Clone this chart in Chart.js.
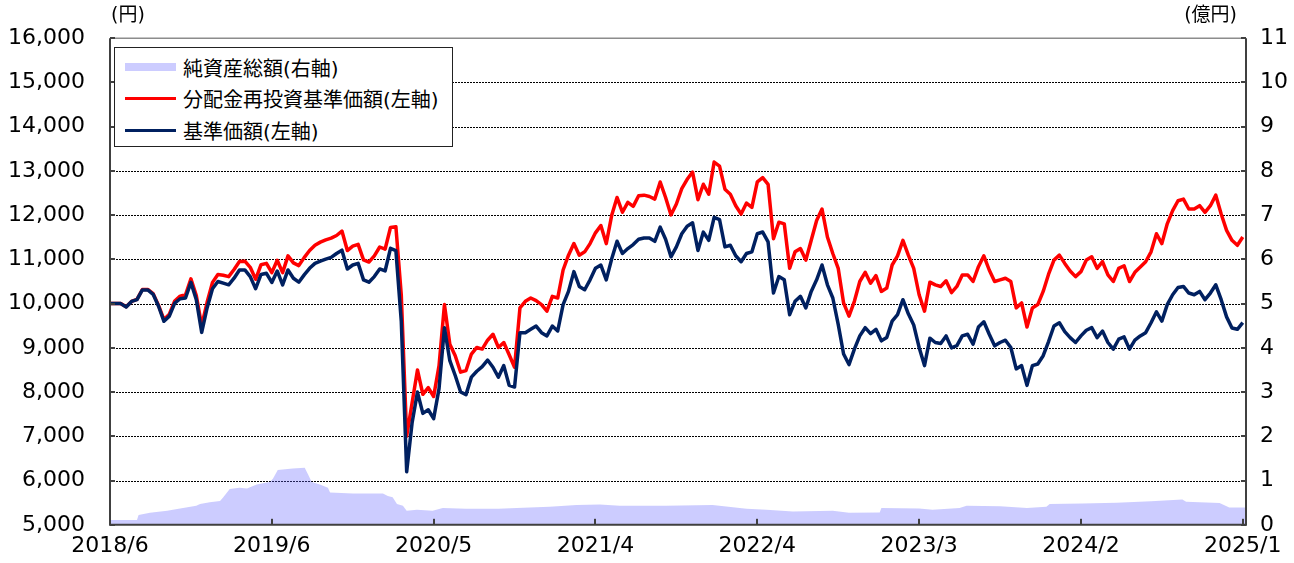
<!DOCTYPE html>
<html>
<head>
<meta charset="utf-8">
<title>基準価額・純資産総額の推移</title>
<script src="https://cdn.jsdelivr.net/npm/chart.js"></script>
<style>
  body { margin: 0; background: #fff; }
  #wrap { position: relative; width: 1294px; height: 563px; }
  .legend {
    position: absolute; left: 114px; top: 47px; width: 339px; height: 100px;
    box-sizing: border-box; border: 1px solid #222; background: #fff;
    font-family: "DejaVu Sans", "Noto Sans CJK JP", sans-serif; font-size: 20px; color: #000;
  }
  .row { position: absolute; left: 10px; height: 30px; display: flex; align-items: center; white-space: nowrap; }
  .sw { width: 51px; margin-right: 7px; }
</style>
</head>
<body>
<div id="wrap">
  <canvas id="grafico" width="1294" height="563"></canvas>
  <div class="legend">
    <div class="row" style="top:4px"><span class="sw" style="height:8px;background:#ccccff"></span>純資産総額(右軸)</div>
    <div class="row" style="top:35px"><span class="sw" style="height:3px;background:#ff0000"></span>分配金再投資基準価額(左軸)</div>
    <div class="row" style="top:67px"><span class="sw" style="height:3px;background:#002060"></span>基準価額(左軸)</div>
  </div>
</div>
<script>
  // x axis: trading-day index, labels every 30 steps
  var tickIdx = [0, 30, 60, 90, 120, 150, 180, 210];
  var tickLabels = ['2018/6', '2019/6', '2020/5', '2021/4', '2022/4', '2023/3', '2024/2', '2025/1'];

  // 基準価額 (円)
  var kijun = [
    10000, 10000, 10000, 9925, 10050, 10090, 10310, 10310, 10210, 9940,
    9600, 9717, 10010, 10110, 10127, 10480, 10090, 9350, 9903, 10336,
    10500, 10462, 10425, 10574, 10761, 10761, 10611, 10336, 10660, 10686,
    10480, 10738, 10425, 10761, 10574, 10484, 10649, 10798, 10910, 10962,
    11007, 11045, 11133, 11208, 10783, 10873, 10910, 10537, 10484, 10611,
    10783, 10738, 11250, 11200, 9600, 6200, 7300, 8000, 7518, 7600,
    7400, 8077, 9456, 8710, 8375, 8003, 7943, 8338, 8472, 8576,
    8725, 8561, 8338, 8599, 8151, 8114, 9344, 9344, 9419, 9493,
    9344, 9270, 9493, 9381, 9978, 10276, 10723, 10388, 10313, 10537,
    10798, 10872, 10537, 11006, 11409, 11133, 11245, 11334, 11454, 11483,
    11483, 11409, 11729, 11454, 11058, 11282, 11580, 11751, 11826, 11200,
    11617, 11431, 11950, 11900, 11282, 11319, 11081, 10947, 11133, 11170,
    11580, 11618, 11394, 10239, 10612, 10537, 9750, 10052, 10164, 9903,
    10276, 10537, 10873, 10425, 10127, 9531, 8860, 8622, 8972, 9270,
    9456, 9321, 9419, 9158, 9233, 9605, 9750, 10089, 9769, 9516,
    9009, 8599, 9218, 9121, 9098, 9270, 9000, 9050, 9270, 9307,
    9083, 9471, 9590, 9307, 9046, 9121, 9173, 9009, 8524, 8599,
    8152, 8599, 8636, 8822, 9143, 9494, 9568, 9367, 9232, 9121,
    9270, 9397, 9456, 9232, 9381, 9121, 8972, 9195, 9247, 8972,
    9173, 9270, 9344, 9568, 9814, 9605, 9978, 10201, 10365, 10388,
    10239, 10201, 10276, 10089, 10239, 10425, 10089, 9700, 9450, 9419,
    9568
  ];

  // 分配金再投資基準価額 (円)
  var saitoshi = [
    10000, 10000, 10000, 9930, 10050, 10095, 10320, 10320, 10225, 9960,
    9640, 9760, 10060, 10170, 10200, 10560, 10180, 9500, 10030, 10480,
    10660, 10640, 10610, 10770, 10950, 10960, 10820, 10550, 10880, 10910,
    10700, 10980, 10700, 11080, 10920, 10860, 11040, 11200, 11320, 11390,
    11440, 11480, 11540, 11640, 11200, 11300, 11340, 10990, 10940, 11080,
    11280, 11230, 11720, 11740, 10200, 7000, 7750, 8500, 7950, 8100,
    7900, 8599, 9978, 9083, 8822, 8450, 8487, 8860, 9009, 8972,
    9173, 9307, 9009, 9120, 8845, 8561, 9903, 10052, 10127, 10067,
    9978, 9829, 10164, 10127, 10760, 11096, 11357, 11096, 11170, 11357,
    11600, 11766, 11357, 11990, 12400, 12065, 12288, 12199, 12437, 12452,
    12422, 12363, 12750, 12400, 12005, 12251, 12601, 12810, 12974, 12350,
    12698, 12474, 13200, 13108, 12586, 12474, 12214, 12027, 12273, 12176,
    12750, 12847, 12698, 11469, 11841, 11804, 10800, 11170, 11245, 10984,
    11431, 11878, 12139, 11506, 11133, 10798, 10015, 9717, 10052, 10500,
    10708, 10462, 10634, 10276, 10351, 10873, 11080, 11431, 11096, 10798,
    10201, 9829, 10485, 10425, 10388, 10515, 10250, 10388, 10649, 10649,
    10500, 10835, 11081, 10760, 10500, 10537, 10574, 10500, 9903, 10015,
    9471, 9903, 9978, 10276, 10664, 10984, 11096, 10909, 10738, 10611,
    10723, 10984, 11059, 10798, 10947, 10649, 10500, 10798, 10857, 10500,
    10708, 10827, 10947, 11170, 11580, 11357, 11804, 12102, 12325, 12363,
    12139, 12139, 12214, 12065, 12214, 12452, 12027, 11655, 11431, 11319,
    11506
  ];

  // 純資産総額 (億円), read at the day index where it changes
  var junIdx = [0, 5, 5.3, 7.4, 10.6, 13, 16, 16.7, 18.5, 20.4, 21, 22.2, 24, 25.4, 27.2, 29.6, 30.2, 31.1,
    33.9, 36.1, 36.7, 37.4, 38.9, 40.4, 40.8, 45, 50.6, 51.5, 52.4, 53.2, 54.3, 55, 56.9, 59.8, 61.7,
    66, 72, 75.4, 81.5, 86.5, 90.8, 94.5, 103, 111.7, 118, 121.7, 126.6, 134, 137, 142.7, 143, 150,
    152.5, 157.5, 158.8, 165, 170, 173.6, 174.2, 180.3, 186.6, 193, 198.8, 199.5, 205.7, 207.5, 210.6];
  var junVals = [0.11, 0.11, 0.22, 0.27, 0.32, 0.37, 0.43, 0.47, 0.51, 0.54, 0.62, 0.81, 0.84, 0.82, 0.91, 0.97, 1.04, 1.24,
    1.27, 1.29, 1.14, 0.97, 0.91, 0.84, 0.73, 0.71, 0.71, 0.65, 0.62, 0.47, 0.43, 0.32, 0.34, 0.32, 0.38,
    0.36, 0.36, 0.38, 0.41, 0.45, 0.46, 0.43, 0.43, 0.45, 0.36, 0.34, 0.30, 0.32, 0.27, 0.28, 0.38, 0.37,
    0.34, 0.38, 0.43, 0.42, 0.38, 0.41, 0.47, 0.48, 0.50, 0.53, 0.57, 0.52, 0.49, 0.39, 0.39];

  var fonte = '"DejaVu Sans", "Noto Sans CJK JP", sans-serif';

  function pontos(vals) {
    return vals.map(function (v, i) { return { x: i, y: v }; });
  }

  var moldura = {
    id: 'moldura',
    beforeDatasetsDraw: function (chart) {
      // dotted grid drawn as small dots, under the datasets
      var ctx = chart.ctx, a = chart.chartArea, y = chart.scales.y;
      ctx.save();
      ctx.fillStyle = '#000000';
      y.ticks.forEach(function (t) {
        if (t.value <= y.min || t.value >= y.max) return;
        var gy = Math.round(y.getPixelForValue(t.value));
        for (var gx = Math.round(a.left); gx < a.right; gx += 3) {
          ctx.fillRect(gx, gy, 2, 1);
        }
      });
      ctx.restore();
    },
    afterDraw: function (chart) {
      var ctx = chart.ctx, a = chart.chartArea;
      var x = chart.scales.x, y = chart.scales.y, y1 = chart.scales.y1;
      ctx.save();
      ctx.strokeStyle = '#8c8c8c';
      ctx.lineWidth = 1.5;
      ctx.beginPath(); ctx.moveTo(a.left, a.top); ctx.lineTo(a.right, a.top); ctx.stroke();
      ctx.strokeStyle = '#404040';
      ctx.lineWidth = 2;
      ctx.beginPath();
      ctx.moveTo(a.left, a.top); ctx.lineTo(a.left, a.bottom); ctx.lineTo(a.right, a.bottom); ctx.lineTo(a.right, a.top);
      ctx.stroke();
      // inward tick marks
      ctx.fillStyle = '#404040';
      y.ticks.forEach(function (t) {
        ctx.fillRect(a.left, Math.round(y.getPixelForValue(t.value)) - 1, 5, 2);
      });
      y1.ticks.forEach(function (t) {
        ctx.fillRect(a.right - 5, Math.round(y1.getPixelForValue(t.value)) - 1, 5, 2);
      });
      x.ticks.forEach(function (t) {
        ctx.fillRect(Math.round(x.getPixelForValue(t.value)) - 1, a.bottom - 6, 2, 6);
      });
      ctx.fillStyle = '#000';
      ctx.font = '19px ' + fonte;
      ctx.textBaseline = 'middle';
      ctx.textAlign = 'left';
      ctx.fillText('(円)', a.left + 1, 16);
      ctx.textAlign = 'right';
      ctx.fillText('(億円)', a.right - 9, 16);
      ctx.restore();
    }
  };

  new Chart(document.getElementById('grafico'), {
    type: 'line',
    data: {
      datasets: [{
        label: '純資産総額(右軸)',
        data: junIdx.map(function (d, i) { return { x: d, y: junVals[i] }; }),
        yAxisID: 'y1',
        // translucent so the dotted grid shows through; reads as #ccccff on white
        backgroundColor: 'rgba(102,102,255,0.333)',
        borderWidth: 0,
        fill: 'origin',
        pointRadius: 0,
        order: 3
      }, {
        label: '分配金再投資基準価額(左軸)',
        data: pontos(saitoshi),
        yAxisID: 'y',
        borderColor: '#ff0000',
        borderWidth: 3.5,
        borderJoinStyle: 'round',
        pointRadius: 0,
        fill: false,
        order: 2
      }, {
        label: '基準価額(左軸)',
        data: pontos(kijun),
        yAxisID: 'y',
        borderColor: '#002060',
        borderWidth: 3.5,
        borderJoinStyle: 'round',
        pointRadius: 0,
        fill: false,
        order: 1
      }]
    },
    options: {
      responsive: false,
      animation: false,
      devicePixelRatio: 1,
      layout: { padding: { top: 34, left: 0, right: 0, bottom: 0 } },
      plugins: { legend: { display: false }, tooltip: { enabled: false } },
      scales: {
        x: {
          type: 'linear',
          min: 0,
          max: 210.6,
          afterBuildTicks: function (s) { s.ticks = tickIdx.map(function (v) { return { value: v }; }); },
          afterFit: function (s) { s.height = 37; },
          grid: { display: false, drawTicks: false },
          border: { display: false },
          ticks: {
            autoSkip: false, maxRotation: 0, padding: 8, color: '#000',
            font: { family: fonte, size: 22 },
            callback: function (v) { var k = tickIdx.indexOf(v); return k >= 0 ? tickLabels[k] : ''; }
          }
        },
        y: {
          position: 'left',
          min: 5000,
          max: 16000,
          afterFit: function (s) { s.width = 110; },
          grid: { display: false, drawTicks: false },
          border: { display: false },
          ticks: {
            stepSize: 1000, padding: 25, color: '#000',
            font: { family: fonte, size: 22 },
            callback: function (v) { return v.toLocaleString('en-US'); }
          }
        },
        y1: {
          position: 'right',
          min: 0,
          max: 11,
          afterFit: function (s) { s.width = 48; },
          grid: { display: false, drawTicks: false },
          border: { display: false },
          ticks: {
            stepSize: 1, padding: 14, color: '#000',
            font: { family: fonte, size: 22 }
          }
        }
      }
    },
    plugins: [moldura]
  });
</script>
</body>
</html>
